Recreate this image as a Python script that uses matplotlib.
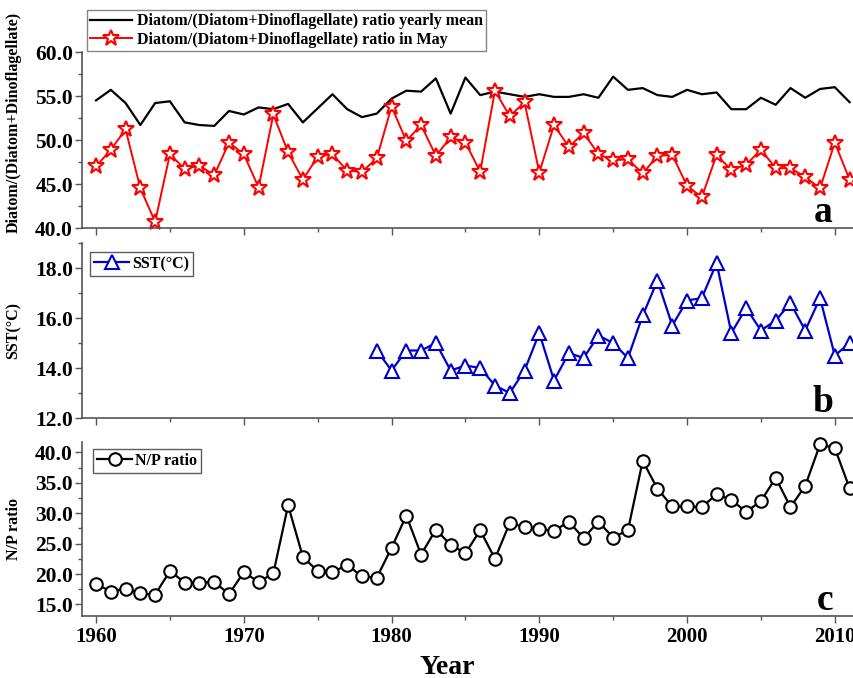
import matplotlib
matplotlib.use("Agg")
import matplotlib.pyplot as plt
from matplotlib.ticker import MultipleLocator, FormatStrFormatter

plt.rcParams['font.family'] = ['Liberation Serif', 'DejaVu Serif']

years = list(range(1960, 2012))

ratio_yearly_mean = [54.5, 55.7, 54.2, 51.7, 54.2, 54.4, 52.0, 51.7, 51.6, 53.3,
                     52.9, 53.7, 53.5, 54.1, 52.0, 53.6, 55.2, 53.5, 52.6, 53.0,
                     54.7, 55.6, 55.5, 57.0, 53.0, 57.1, 55.1, 55.5, 55.2, 54.9,
                     55.2, 54.9, 54.9, 55.2, 54.8, 57.2, 55.7, 55.9, 55.1, 54.9,
                     55.7, 55.2, 55.4, 53.5, 53.5, 54.8, 54.0, 55.9, 54.8, 55.8,
                     56.0, 54.3]

ratio_may = [47.0, 48.9, 51.2, 44.5, 40.7, 48.4, 46.7, 47.1, 46.0, 49.7,
             48.4, 44.6, 52.9, 48.6, 45.5, 48.1, 48.4, 46.5, 46.4, 47.9,
             53.8, 49.9, 51.7, 48.2, 50.3, 49.7, 46.4, 55.6, 52.7, 54.3,
             46.3, 51.7, 49.2, 50.8, 48.4, 47.7, 47.8, 46.2, 48.2, 48.3,
             44.8, 43.5, 48.3, 46.6, 47.2, 48.9, 46.8, 46.8, 45.8, 44.5,
             49.7, 45.5]

sst_years = list(range(1979, 2012))
sst = [14.7, 13.9, 14.7, 14.7, 15.0, 13.9, 14.1, 14.0, 13.3, 13.0,
       13.9, 15.4, 13.5, 14.6, 14.4, 15.3, 15.0, 14.4, 16.1, 17.5,
       15.7, 16.7, 16.8, 18.2, 15.4, 16.4, 15.5, 15.9, 16.6, 15.5,
       16.8, 14.5, 15.0]

np_ratio = [18.4, 17.1, 17.6, 16.8, 16.6, 20.5, 18.6, 18.6, 18.7, 16.7,
            20.3, 18.7, 20.1, 31.3, 22.8, 20.5, 20.3, 21.5, 19.6, 19.4,
            24.3, 29.6, 23.2, 27.3, 24.8, 23.4, 27.2, 22.5, 28.4, 27.7,
            27.4, 27.1, 28.6, 25.9, 28.6, 26.0, 27.2, 38.6, 34.0, 31.1,
            31.1, 31.0, 33.1, 32.2, 30.2, 32.0, 35.8, 31.0, 34.5, 41.3,
            40.7, 34.1]

W, H = 854, 678
fig = plt.figure(figsize=(W / 100, H / 100), dpi=100)

def box(l, t, r, b):
    return [l / W, 1 - b / H, (r - l) / W, (b - t) / H]

ax_a = fig.add_axes(box(82, 52, 854, 228))
ax_b = fig.add_axes(box(82, 243, 854, 418))
ax_c = fig.add_axes(box(82, 442, 854, 616))

spine_col = '#555555'
for ax in (ax_a, ax_b, ax_c):
    ax.set_xlim(1959.05, 2011.3)
    for s in ('top', 'right'):
        ax.spines[s].set_visible(False)
    for s in ('left', 'bottom'):
        ax.spines[s].set_color(spine_col)
        ax.spines[s].set_linewidth(1.2)
    ax.xaxis.set_major_locator(MultipleLocator(10))
    ax.xaxis.set_minor_locator(MultipleLocator(5))
    ax.tick_params(which='both', direction='out', colors=spine_col, labelcolor='black',
                   width=1.0)
    ax.tick_params(axis='y', labelsize=15.5, pad=1.5)
    ax.tick_params(axis='x', labelsize=15, pad=3)
    ax.tick_params(which='major', length=5)
    ax.tick_params(which='minor', length=3)

def letter(ax, s, height_px):
    ax.text((833 - 82) / (854 - 82), 6 / height_px, s, transform=ax.transAxes,
            ha='right', va='baseline', fontsize=27, fontweight='bold')

# Panel a
ax_a.plot(years, ratio_yearly_mean, color='black', lw=1.6,
          label='Diatom/(Diatom+Dinoflagellate) ratio yearly mean')
ax_a.plot(years, ratio_may, color='red', lw=1.4, marker='*', ms=12,
          mfc='white', mec='red', mew=1.5, clip_on=False,
          label='Diatom/(Diatom+Dinoflagellate) ratio in May')
ax_a.set_ylim(40, 60)
ax_a.yaxis.set_major_locator(MultipleLocator(5))
ax_a.yaxis.set_minor_locator(MultipleLocator(2.5))
ax_a.yaxis.set_major_formatter(FormatStrFormatter('%.1f'))
ax_a.set_ylabel('Diatom/(Diatom+Dinoflagellate)', fontsize=11.5, fontweight='bold')
ax_a.tick_params(axis='x', labelbottom=False)
leg = ax_a.legend(loc='upper left', bbox_to_anchor=((87 - 82) / (854 - 82), 1 + (52 - 10) / (228 - 52)),
                  prop={'weight': 'bold', 'size': 11.5}, frameon=True, fancybox=False,
                  edgecolor='#666666', borderpad=0.2, labelspacing=0.15, handlelength=2.6,
                  handletextpad=0.3, borderaxespad=0)
leg.get_frame().set_linewidth(1.0)
letter(ax_a, 'a', 176)

# Panel b
ax_b.plot(sst_years, sst, color='#0000cc', lw=1.6, marker='^', ms=10,
          mfc='white', mec='#0000cc', mew=1.5, clip_on=False, label='SST(\u00b0C)')
ax_b.set_ylim(12, 19)
ax_b.yaxis.set_major_locator(MultipleLocator(2))
ax_b.yaxis.set_minor_locator(MultipleLocator(1))
ax_b.yaxis.set_major_formatter(FormatStrFormatter('%.1f'))
ax_b.set_ylabel('SST(\u00b0C)', fontsize=11.5, fontweight='bold')
ax_b.tick_params(axis='x', labelbottom=False)
leg = ax_b.legend(loc='upper left', bbox_to_anchor=((90 - 82) / (854 - 82), 1 - (252 - 243) / (418 - 243)),
                  prop={'weight': 'bold', 'size': 11.5}, frameon=True, fancybox=False,
                  edgecolor='#333333', borderpad=0.25, handlelength=2.2,
                  handletextpad=0.2, borderaxespad=0)
leg.get_frame().set_linewidth(1.0)
letter(ax_b, 'b', 175)

# Panel c
ax_c.plot(years, np_ratio, color='black', lw=1.6, marker='o', ms=9,
          mfc='white', mec='black', mew=1.5, clip_on=False, label='N/P ratio')
ax_c.set_ylim(13.1, 41.7)
ax_c.yaxis.set_major_locator(MultipleLocator(5))
ax_c.yaxis.set_minor_locator(MultipleLocator(2.5))
ax_c.yaxis.set_major_formatter(FormatStrFormatter('%.1f'))
ax_c.set_ylabel('N/P ratio', fontsize=11.5, fontweight='bold')
leg = ax_c.legend(loc='upper left', bbox_to_anchor=((93 - 82) / (854 - 82), 1 - (449 - 442) / (616 - 442)),
                  prop={'weight': 'bold', 'size': 11.5}, frameon=True, fancybox=False,
                  edgecolor='#333333', borderpad=0.25, handlelength=2.2,
                  handletextpad=0.2, borderaxespad=0)
leg.get_frame().set_linewidth(1.0)
letter(ax_c, 'c', 174)

for ax in (ax_a, ax_b, ax_c):
    for lab in ax.get_xticklabels() + ax.get_yticklabels():
        lab.set_fontweight('bold')

fig.text(447 / W, 1 - 667 / H, 'Year', ha='center', va='center',
         fontsize=20, fontweight='bold')

ax_a.yaxis.set_label_coords(-0.078, 0.6)
ax_b.yaxis.set_label_coords(-0.078, 0.5)
ax_c.yaxis.set_label_coords(-0.078, 0.5)

fig.savefig('out.png', dpi=100)
